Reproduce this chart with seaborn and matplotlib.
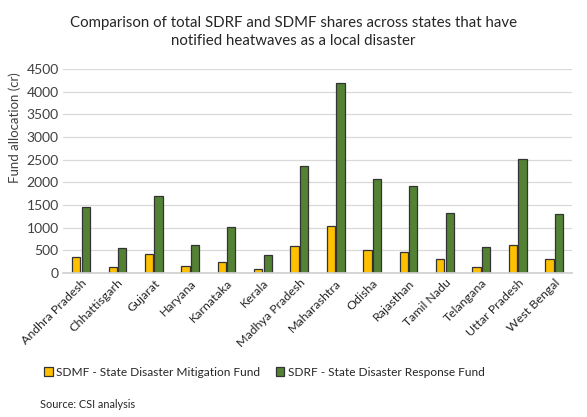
import matplotlib
matplotlib.use("Agg")
import matplotlib.pyplot as plt
import seaborn as sns
import pandas as pd

states = ["Andhra Pradesh", "Chhattisgarh", "Gujarat", "Haryana", "Karnataka", "Kerala",
          "Madhya Pradesh", "Maharashtra", "Odisha", "Rajasthan", "Tamil Nadu",
          "Telangana", "Uttar Pradesh", "West Bengal"]
sdmf = [360, 125, 415, 150, 245, 85, 590, 1040, 510, 475, 320, 125, 630, 320]
sdrf = [1450, 550, 1700, 630, 1010, 395, 2360, 4180, 2070, 1915, 1320, 570, 2515, 1300]
series_names = ["SDMF - State Disaster Mitigation Fund", "SDRF - State Disaster Response Fund"]
yticks = [0, 500, 1000, 1500, 2000, 2500, 3000, 3500, 4000, 4500]

df = pd.DataFrame({
    "State": states * 2,
    "Fund": [series_names[0]] * len(states) + [series_names[1]] * len(states),
    "Value": sdmf + sdrf,
})

sns.set_theme(style="white")
plt.rcParams["font.family"] = ["Lato", "DejaVu Sans"]

fig = plt.figure(figsize=(5.87, 4.17), dpi=100)
ax = fig.add_axes([0.107, 0.345, 0.868, 0.49])

sns.barplot(data=df, x="State", y="Value", hue="Fund", order=states,
            hue_order=series_names, palette=["#FFC000", "#548235"], saturation=1,
            width=0.52, gap=0.12, edgecolor="#333333", linewidth=0.9,
            ax=ax, legend=True)

ax.set_ylim(0, 4500)
ax.set_yticks(yticks)
ax.set_yticklabels([str(t) for t in yticks], fontsize=10, color="#404040")
ax.set_xlim(-0.5, len(states) - 0.5)
ax.yaxis.grid(True, color="#d9d9d9", linewidth=0.9)
ax.set_axisbelow(True)
for s in ["top", "right", "left"]:
    ax.spines[s].set_visible(False)
ax.spines["bottom"].set_color("#d0d0d0")
ax.tick_params(axis="both", length=0, pad=3)
ax.set_xlabel("")
ax.set_ylabel("Fund allocation (cr)", fontsize=9.5, color="#404040")
ax.yaxis.set_label_coords(-0.082, 0.71)
ax.set_xticks(range(len(states)))
ax.set_xticklabels(states, rotation=45, ha="right", rotation_mode="anchor",
                   fontsize=8.9, color="#262626")

ax.legend(loc="center", bbox_to_anchor=(0.396, -0.485), ncol=2, frameon=False,
          fontsize=8.6, handlelength=0.7, handleheight=0.7, handletextpad=0.3,
          columnspacing=1.3, labelcolor="#262626", borderpad=0, borderaxespad=0)

fig.text(0.5, 0.923, "Comparison of total SDRF and SDMF shares across states that have\nnotified heatwaves as a local disaster",
         ha="center", va="center", fontsize=10.8, color="#262626", linespacing=1.4)
fig.text(0.068, 0.03, "Source: CSI analysis", ha="left", va="center", fontsize=7.8, color="#262626")

fig.savefig("out.png", dpi=100)
